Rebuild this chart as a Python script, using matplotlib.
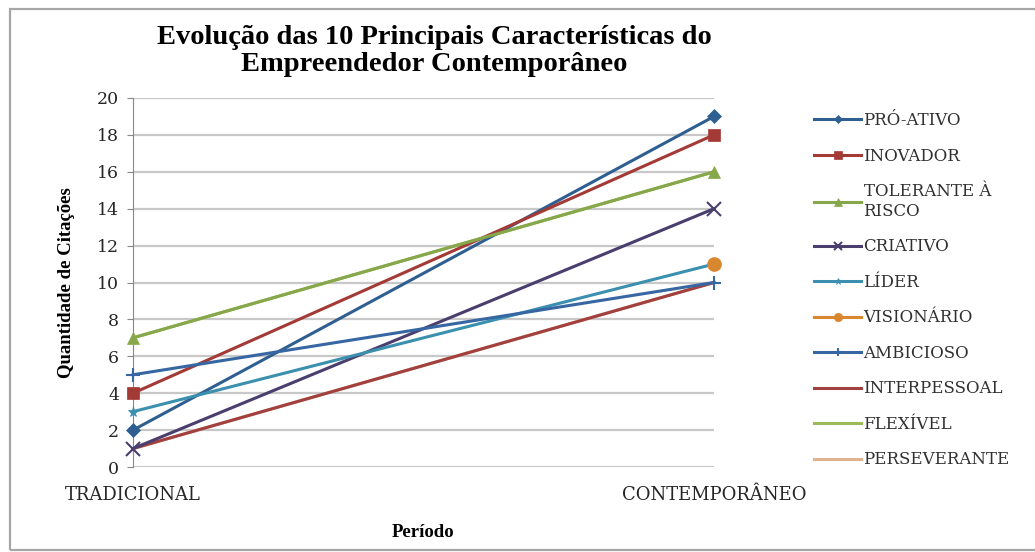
import numpy as np
import matplotlib
matplotlib.use("Agg")
import matplotlib.pyplot as plt
from matplotlib.patches import Rectangle

# dados
periodos = ["TRADICIONAL", "CONTEMPORÂNEO"]
nomes = ["PRÓ-ATIVO", "INOVADOR", "TOLERANTE À\nRISCO", "CRIATIVO", "LÍDER",
         "VISIONÁRIO", "AMBICIOSO", "INTERPESSOAL", "FLEXÍVEL", "PERSEVERANTE"]
pro_ativo = [2, 19]
inovador = [4, 18]
tolerante = [7, 16]
criativo = [1, 14]
lider = [3, 11]
visionario = [np.nan, 11]
ambicioso = [5, 10]
interpessoal = [1, 10]
flexivel = [7, 16]
perseverante = [1, 10]

series = [pro_ativo, inovador, tolerante, criativo, lider,
          visionario, ambicioso, interpessoal, flexivel, perseverante]
cores = ["#2F5F91", "#A33A36", "#86A84A", "#4A3E6E", "#3A90AE",
         "#D9872F", "#3767A3", "#A2403F", "#9BBB59", "#E0B48F"]
marcadores = ["D", "s", "^", "x", "*", "o", "+", "", "", ""]
tamanhos = [7, 9, 9, 10, 8, 10, 10, 0, 0, 0]
ordem_z = [5, 5, 5, 5, 5, 6, 5, 4, 3, 3]

serif = ["DejaVu Serif"]
tserif = ["Liberation Serif"]

fig = plt.figure(figsize=(10.35, 5.52), dpi=100)
fig.patch.set_facecolor("white")
fig.patches.append(Rectangle((10 / 1035, 2 / 552), 1.2, 541 / 552, transform=fig.transFigure,
                             facecolor="none", edgecolor="#A6A6A6", linewidth=1.6))

ax = fig.add_axes([133 / 1035, 1 - 467 / 552, (714 - 133) / 1035, (467 - 98) / 552])
x = np.arange(len(periodos))
for vals, nome, cor, mk, ms, z in zip(series, nomes, cores, marcadores, tamanhos, ordem_z):
    ax.plot(x, vals, color=cor, linewidth=2.2, marker=mk if mk else None, markersize=ms,
            markeredgewidth=1.5 if mk in ("x", "+") else 0.5, label=nome, zorder=z)

ax.set_xlim(0, 1)
ax.set_ylim(0, 20)
ax.set_yticks(np.arange(0, 21, 2))
ax.set_xticks(x)
ax.set_xticklabels(periodos, family=serif, fontsize=13, color="#262626")
for t in ax.get_yticklabels():
    t.set_family(serif)
    t.set_fontsize(12.5)
    t.set_color("#262626")
ax.tick_params(axis="y", length=4, color="#888888", pad=6)
ax.tick_params(axis="x", length=0, pad=14)
ax.yaxis.grid(True, color="#C8C8C8", linewidth=1.6)
ax.set_axisbelow(True)
for s in ["top", "right", "bottom"]:
    ax.spines[s].set_visible(False)
ax.spines["left"].set_color("#888888")
for ln in ax.lines:
    ln.set_clip_on(False)

ax.set_ylabel("Quantidade de Citações", family=tserif, fontweight="bold", fontsize=13.5, labelpad=16)
ax.set_xlabel("Período", family=tserif, fontweight="bold", fontsize=13.5, labelpad=14)
fig.text(434 / 1035, 1 - 51 / 552, "Evolução das 10 Principais Características do\nEmpreendedor Contemporâneo",
         family=tserif, fontweight="bold", fontsize=20.5, ha="center", va="center", linespacing=1.1)

leg = ax.legend(loc="upper left", bbox_to_anchor=(806 / 1035, 1 - 104 / 552), bbox_transform=fig.transFigure,
                frameon=False, prop={"family": serif, "size": 12}, handlelength=2.8,
                handletextpad=0.15, labelspacing=1.11, markerscale=0.6, borderpad=0)
for t in leg.get_texts():
    t.set_color("#303030")

fig.savefig("out.png", dpi=100)
